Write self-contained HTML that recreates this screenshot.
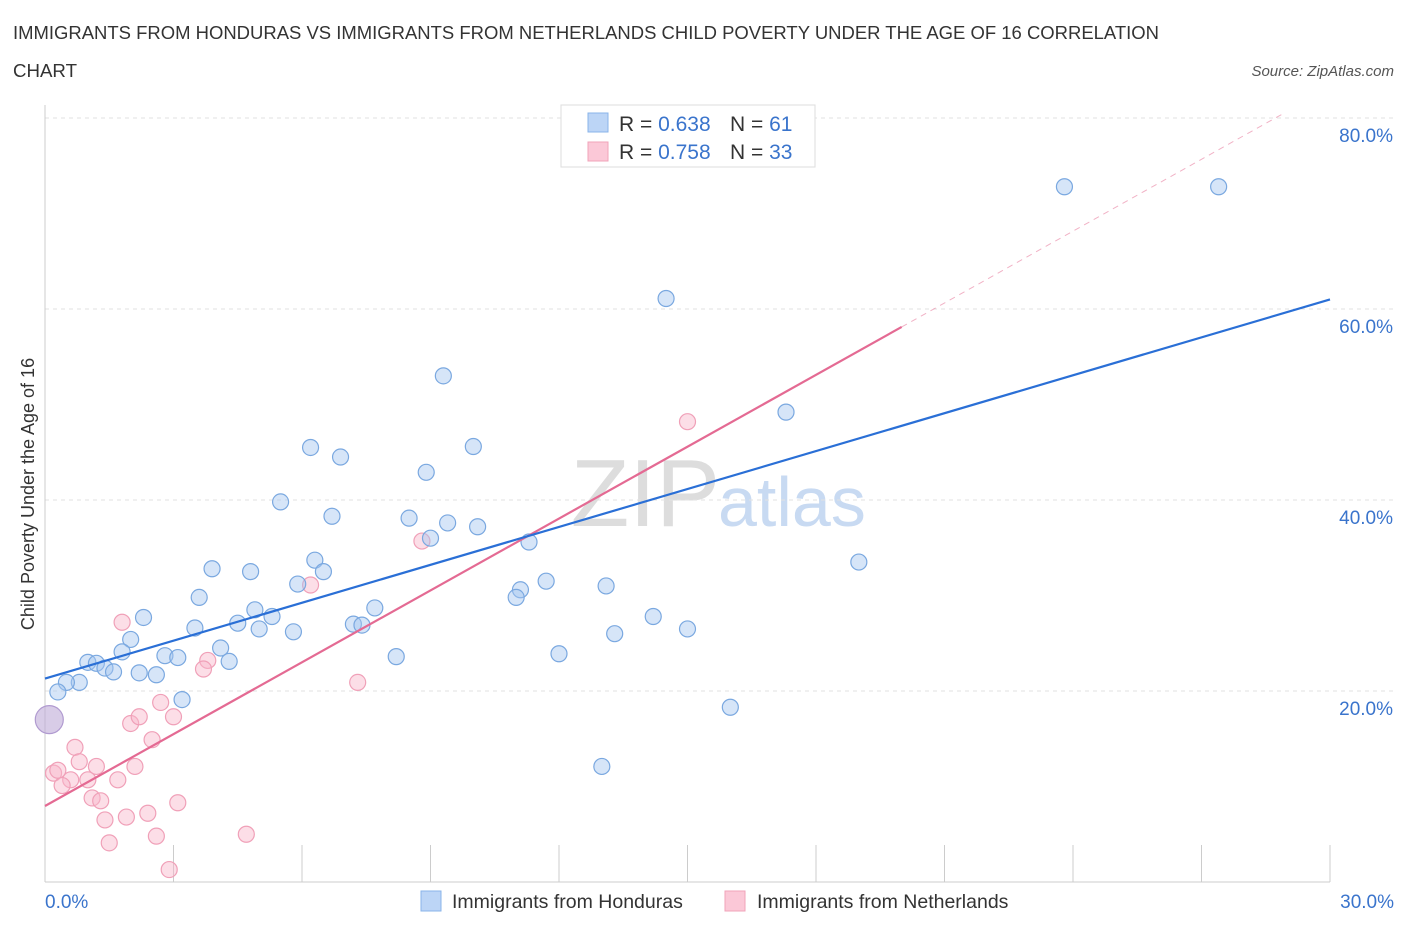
<!DOCTYPE html>
<html><head><meta charset="utf-8"><style>
body{margin:0;background:#fff;font-family:"Liberation Sans",sans-serif;}
svg text{font-family:"Liberation Sans",sans-serif;}
</style></head><body>
<svg id="c" width="1406" height="930">
<text x="13" y="39" font-size="18" fill="#333" textLength="1146" lengthAdjust="spacingAndGlyphs">IMMIGRANTS FROM HONDURAS VS IMMIGRANTS FROM NETHERLANDS CHILD POVERTY UNDER THE AGE OF 16 CORRELATION</text>
<text x="13" y="77" font-size="18" fill="#333" textLength="64" lengthAdjust="spacingAndGlyphs">CHART</text>
<text x="1394" y="76" font-size="15" fill="#555" font-style="italic" text-anchor="end">Source: ZipAtlas.com</text>
<text x="720" y="526" font-size="96" fill="#ddd" text-anchor="end" font-family="Liberation Serif">ZIP</text>
<text x="718" y="526" font-size="70" fill="#c8daf2">atlas</text>
<text transform="translate(34,494) rotate(-90)" font-size="18" fill="#333" text-anchor="middle">Child Poverty Under the Age of 16</text>
<g id="grid"></g><g id="marks"></g>
<g>
<rect x="561" y="105" width="254" height="62" fill="#fff" stroke="#ddd"/>
<rect x="588" y="113" width="20" height="19" fill="#bcd5f6" stroke="#8ab4ea"/>
<rect x="588" y="142" width="20" height="19" fill="#fbc8d7" stroke="#f0a3ba"/>
<text x="619" y="131" font-size="21" fill="#333">R = <tspan fill="#3a74cc">0.638</tspan></text>
<text x="730" y="131" font-size="21" fill="#333">N = <tspan fill="#3a74cc"> 61</tspan></text>
<text x="619" y="159" font-size="21" fill="#333">R = <tspan fill="#3a74cc">0.758</tspan></text>
<text x="730" y="159" font-size="21" fill="#333">N = <tspan fill="#3a74cc">33</tspan></text>
</g>
<g>
<rect x="421" y="891" width="20" height="20" fill="#bcd5f6" stroke="#8ab4ea"/>
<text x="452" y="908" font-size="19.5" fill="#333">Immigrants from Honduras</text>
<rect x="725" y="891" width="20" height="20" fill="#fbc8d7" stroke="#f0a3ba"/>
<text x="757" y="908" font-size="19.5" fill="#333">Immigrants from Netherlands</text>
</g>
</svg>
<script>
const yTicks=[20,40,60,80];
const yTickLabels=["20.0%","40.0%","60.0%","80.0%"];
const xTickLabels=["0.0%","30.0%"];
const blueX=[23.8,27.4,14.5,9.3,17.3,6.2,10.0,6.9,8.9,5.5,6.7,8.5,9.4,10.1,9.0,11.3,19.0,6.3,3.9,4.8,6.5,5.9,11.7,11.1,11.0,13.1,3.6,2.3,4.9,5.3,7.7,14.2,4.5,3.5,5.0,5.8,7.2,7.4,15.0,13.3,2.0,1.8,4.1,2.8,3.1,4.3,1.0,1.2,1.4,2.2,1.6,2.6,12.0,8.2,0.8,0.5,0.3,3.2,16.0,13.0];
const blueY=[72.8,72.8,61.1,53.0,49.2,45.5,45.6,44.5,42.9,39.8,38.3,38.1,37.6,37.2,36.0,35.6,33.5,33.7,32.8,32.5,32.5,31.2,31.5,30.6,29.8,31.0,29.8,27.7,28.5,27.8,28.7,27.8,27.1,26.6,26.5,26.2,27.0,26.9,26.5,26.0,25.4,24.1,24.5,23.7,23.5,23.1,23.0,22.9,22.4,21.9,22.0,21.7,23.9,23.6,20.9,20.9,19.9,19.1,18.3,12.1];
const pinkX=[15.0,8.8,6.2,1.8,3.8,3.7,7.3,2.7,2.0,2.2,3.0,2.5,0.7,0.8,1.2,2.1,0.2,0.3,0.6,1.0,1.7,0.4,1.1,1.3,3.1,1.4,1.9,2.4,2.6,4.7,1.5,2.9];
const pinkY=[48.2,35.7,31.1,27.2,23.2,22.3,20.9,18.8,16.6,17.3,17.3,14.9,14.1,12.6,12.1,12.1,11.4,11.7,10.7,10.7,10.7,10.1,8.8,8.5,8.3,6.5,6.8,7.2,4.8,5.0,4.1,1.3];
const bigPoint=[0.1,17.0];
const blueLine=[21.3,61.0];
const pinkLine=[7.96,83.2];
const pinkSolidEnd=20.0;

const X=v=>45+v/30*1285, Y=v=>882-v*9.55;
const NS="http://www.w3.org/2000/svg";
const g=document.getElementById('grid'), m=document.getElementById('marks');
function mk(p,tag,a){const e=document.createElementNS(NS,tag);for(const k in a)e.setAttribute(k,a[k]);p.appendChild(e);return e;}
yTicks.forEach((t,i)=>{
 const l=mk(g,'line',{x1:45,x2:1394,y1:Y(t),y2:Y(t),stroke:'#e2e2e2','stroke-dasharray':'4,4'});
 
 
 const tx=mk(g,'text',{x:1393,y:Y(t)+24,'font-size':19,fill:'#3a74cc','text-anchor':'end'});
 tx.textContent=yTickLabels[i];
 
 
});
const ax=mk(g,'line',{x1:45,x2:45,y1:105,y2:882,stroke:'#ccc'});


const bx=mk(g,'line',{x1:45,x2:1330,y1:882,y2:882,stroke:'#ccc'});


for(let i=0;i<=10;i++){const t=mk(g,'line',{x1:X(i*3),x2:X(i*3),y1:845,y2:882,stroke:'#ccc'});
 
 }
[[0,'start',45],[30,'end',1394]].forEach((d,i)=>{const t=mk(g,'text',{x:d[2],y:908,'font-size':19,fill:'#3a74cc','text-anchor':d[1]});t.textContent=xTickLabels[i];
 
 });
function dot(x,y,r,f,s,n){const c=mk(m,'circle',{cx:X(x),cy:Y(y),r:r,fill:f,stroke:s,'stroke-width':1.2});
 
 }
pinkX.forEach((x,i)=>dot(x,pinkY[i],8,'rgba(248,182,202,0.45)','#f0a0b8','netherlands-point'));
blueX.forEach((x,i)=>dot(x,blueY[i],8,'rgba(164,198,240,0.45)','#7aa8e0','honduras-point'));
dot(bigPoint[0],bigPoint[1],14,'rgba(190,170,215,0.6)','#b09ad0','overlap-point');
const py=v=>pinkLine[0]+(pinkLine[1]-pinkLine[0])*v/30;
const pe=py(pinkSolidEnd);
let xe=30;while(py(xe)>80.5)xe-=0.05;
const pd=mk(m,'line',{x1:X(pinkSolidEnd),y1:Y(pe),x2:X(xe),y2:Y(py(xe)),stroke:'#e87fa0','stroke-width':1,'stroke-dasharray':'6,5',opacity:0.6});


const pl=mk(m,'line',{x1:X(0),y1:Y(pinkLine[0]),x2:X(pinkSolidEnd),y2:Y(pe),stroke:'#e46a93','stroke-width':2.2});


const bl=mk(m,'line',{x1:X(0),y1:Y(blueLine[0]),x2:X(30),y2:Y(blueLine[1]),stroke:'#2a6fd6','stroke-width':2.2});


</script>
</body></html>
